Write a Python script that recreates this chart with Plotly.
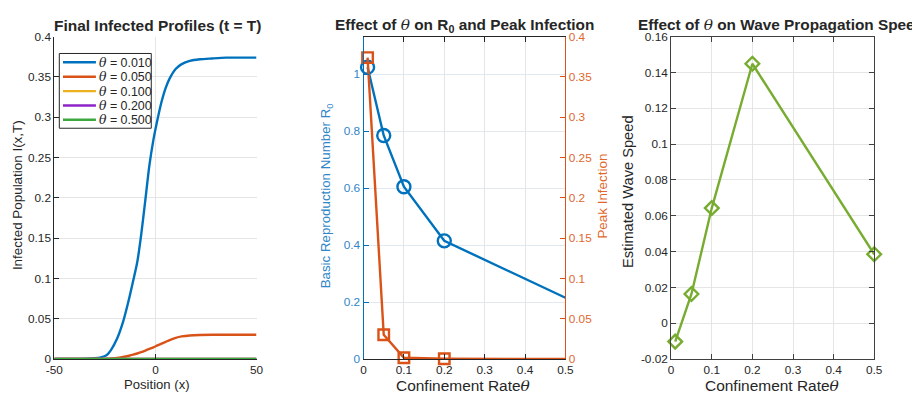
import plotly.graph_objects as go

# ---------------- data ----------------
# Left panel: final infected profiles I(x,T)
pos_x = [-50, -40, -30, -27, -24, -22, -19, -16, -13, -11, -9, -7, -5, -3, -1,
         1, 3, 5, 7, 10, 13, 17, 22, 28, 35, 50]
I_theta_010 = [0.0, 0.0, 0.001, 0.002, 0.005, 0.011, 0.025, 0.046, 0.075, 0.097, 0.120,
               0.155, 0.197, 0.240, 0.272, 0.297, 0.319, 0.336, 0.348, 0.360, 0.366,
               0.370, 0.372, 0.373, 0.374, 0.374]
I_theta_050 = [0.0, 0.0, 0.0, 0.0, 0.0003, 0.0006, 0.0012, 0.0025, 0.004, 0.0053, 0.0068,
               0.0085, 0.0105, 0.0125, 0.0145, 0.0168, 0.019, 0.0212, 0.0235, 0.0262, 0.028,
               0.0292, 0.0298, 0.030, 0.030, 0.030]
I_theta_100 = [0.0] * len(pos_x)
I_theta_200 = [0.0] * len(pos_x)
I_theta_500 = [0.0] * len(pos_x)
profile_labels = ["0.010", "0.050", "0.100", "0.200", "0.500"]

# Middle / right panels
theta = [0.01, 0.05, 0.1, 0.2, 0.5]
R0 = [1.025, 0.785, 0.605, 0.415, 0.215]
peak_infection = [0.374, 0.030, 0.0015, 0.0003, 0.0]
wave_speed = [-0.0103, 0.0163, 0.0643, 0.1449, 0.0385]

# tick labels
left_x_ticks = [-50, 0, 50]
left_x_text = ["-50", "0", "50"]
speed_ticks = [-0.02, 0, 0.02, 0.04, 0.06, 0.08, 0.1, 0.12, 0.14, 0.16]
speed_text = ["-0.02", "0", "0.02", "0.04", "0.06", "0.08", "0.1", "0.12", "0.14", "0.16"]

# ---------------- style / layout helpers ----------------
W, H = 912, 396
# the page is photographed with the body's default 8px margin, scaled back to
# 912x396; these map target window pixels to figure pixels
SX, SY, OFF = 928 / 912, 412 / 396, 8
FSX, FSY = SX, SY   # font compensation (horizontal / rotated text)

def fx(x):
    return (x * SX - OFF) / W

def fy(y):
    return 1 - (y * SY - OFF) / H

FONT = "Liberation Sans, Arial, Helvetica, sans-serif"
TXT = "#262626"
GRID = "#E5E5E5"
BLUE = "#0072BD"
ORANGE = "#D95319"
YELLOW = "#EDB120"
PURPLE = "#8E24C8"
GREEN_L = "#3DA83D"
GREEN = "#77AC30"
BLUE_T = "#2F86C8"
ORANGE_T = "#E0682C"
LW = 2.4

ydom = [fy(358.4), fy(37.3)]
TH = "<span style='font-family:DejaVu Serif'><i>θ</i></span>"

fig = go.Figure()

profile_series = [I_theta_010, I_theta_050, I_theta_100, I_theta_200, I_theta_500]
profile_colors = [BLUE, ORANGE, YELLOW, PURPLE, GREEN_L]
for ys, lab, col in zip(profile_series, profile_labels, profile_colors):
    fig.add_trace(go.Scatter(
        x=pos_x, y=ys, mode="lines", line=dict(color=col, width=LW, shape="spline", smoothing=0.6),
        name=f"{TH} = {lab}", xaxis="x", yaxis="y", showlegend=False, cliponaxis=True))

# middle: R0 (left axis)
fig.add_trace(go.Scatter(x=theta, y=R0, mode="lines", line=dict(color=BLUE, width=LW),
                         xaxis="x2", yaxis="y2", showlegend=False))
fig.add_trace(go.Scatter(x=theta[:4], y=R0[:4], mode="markers",
                         marker=dict(symbol="circle-open", size=13, color=BLUE,
                                     line=dict(width=LW, color=BLUE)),
                         xaxis="x2", yaxis="y2", showlegend=False, cliponaxis=False))
# middle: peak infection (right axis)
fig.add_trace(go.Scatter(x=theta, y=peak_infection, mode="lines", line=dict(color=ORANGE, width=LW),
                         xaxis="x2", yaxis="y4", showlegend=False))
fig.add_trace(go.Scatter(x=theta[:4], y=peak_infection[:4], mode="markers",
                         marker=dict(symbol="square-open", size=10.5, color=ORANGE,
                                     line=dict(width=LW, color=ORANGE)),
                         xaxis="x2", yaxis="y4", showlegend=False, cliponaxis=False))

# right: wave speed
fig.add_trace(go.Scatter(x=theta, y=wave_speed, mode="lines+markers",
                         line=dict(color=GREEN, width=LW),
                         marker=dict(symbol="diamond-open", size=10.5, color=GREEN,
                                     line=dict(width=LW, color=GREEN)),
                         xaxis="x3", yaxis="y3", showlegend=False, cliponaxis=False))

TICK = 11.8
tickfont = dict(family=FONT, size=TICK, color=TXT)
common_ax = dict(ticks="inside", ticklen=5, tickwidth=1, showgrid=True, gridcolor=GRID,
                 gridwidth=1, zeroline=False, showline=True, linewidth=1, tickfont=tickfont,
                 fixedrange=True)

fig.update_layout(
    width=W, height=H, margin=dict(l=0, r=0, t=0, b=0),
    paper_bgcolor="white", plot_bgcolor="white",
    font=dict(family=FONT, color=TXT), showlegend=False,
    xaxis=dict(domain=[fx(53.3), fx(256)], range=[-50, 50], tickvals=left_x_ticks,
               ticktext=left_x_text, linecolor=TXT, tickcolor=TXT, anchor="y", **common_ax),
    yaxis=dict(domain=ydom, range=[0, 0.4], dtick=0.05, linecolor=TXT, tickcolor=TXT,
               anchor="x", **common_ax),
    xaxis2=dict(domain=[fx(363.3), fx(565.7)], range=[0, 0.5], dtick=0.1, linecolor=TXT,
                tickcolor=TXT, mirror="ticks", anchor="y2", **common_ax),
    yaxis2=dict(domain=ydom, range=[0, 1.132], tickvals=[0, 0.2, 0.4, 0.6, 0.8, 1.0],
                ticktext=["0", "0.2", "0.4", "0.6", "0.8", "1"],
                linecolor=BLUE, tickcolor=BLUE, anchor="x2",
                **{**common_ax, "tickfont": dict(family=FONT, size=TICK, color=BLUE_T),
                   "gridcolor": "#E2E8EF"}),
    yaxis4=dict(domain=ydom, range=[0, 0.4], dtick=0.05, overlaying="y2", side="right",
                anchor="x2", linecolor=ORANGE, tickcolor=ORANGE,
                **{**common_ax, "showgrid": False,
                   "tickfont": dict(family=FONT, size=TICK, color=ORANGE_T)}),
    xaxis3=dict(domain=[fx(671.7), fx(875.3)], range=[0, 0.5], dtick=0.1, linecolor="#404040",
                tickcolor="#404040", mirror="ticks", anchor="y3", **common_ax),
    yaxis3=dict(domain=ydom, range=[-0.02, 0.16], tickvals=speed_ticks, ticktext=speed_text,
                linecolor="#404040", tickcolor="#404040", mirror="ticks", anchor="x3",
                **common_ax),
)

def ann(text, x, y, size=12, color=TXT, angle=0, xanchor="center"):
    fs = size * (FSY if angle else FSX)
    fig.add_annotation(text=text, x=fx(x), y=fy(y),
                       xref="paper", yref="paper", showarrow=False, textangle=angle,
                       xanchor=xanchor, yanchor="middle",
                       font=dict(family=FONT, size=fs, color=color))

# ---- legend of the left panel (box, line samples, labels) ----
fig.add_shape(type="rect", xref="paper", yref="paper",
              x0=fx(58.3), x1=fx(150.5), y0=fy(128.5), y1=fy(54),
              line=dict(color=TXT, width=1), fillcolor="white", layer="above")
legend_rows = [62.7, 77.2, 91.5, 105.8, 120.1]
for ry, lab, col in zip(legend_rows, profile_labels, profile_colors):
    fig.add_shape(type="line", xref="paper", yref="paper",
                  x0=fx(62), x1=fx(95), y0=fy(ry), y1=fy(ry),
                  line=dict(color=col, width=LW), layer="above")
    ann(f"{TH} = {lab}", 96.5, ry, size=12.2, xanchor="left")

# titles
ann("<b>Final Infected Profiles (t = T)</b>", 157, 26, size=15.2)
ann(f"<b>Effect of </b>{TH}<b> on R<sub>0</sub> and Peak Infection</b>", 465, 26, size=15.1)
ann(f"<b>Effect of </b>{TH}<b> on Wave Propagation Speed</b>", 636, 26, size=15.1, xanchor="left")
# x labels
ann("Position (x)", 156, 384, size=12.9)
ann(f"Confinement Rate{TH}", 464, 385, size=15.2)
ann(f"Confinement Rate{TH}", 773, 385, size=15.2)
# y labels
ann("Infected Population I(x,T)", 17, 195, size=12.9, angle=-90)
ann("Basic Reproduction Number R<sub>0</sub>", 327, 196, size=12.8, color=BLUE_T, angle=-90)
ann("Peak Infection", 603, 196, size=12.9, color=ORANGE_T, angle=-90)
ann("Estimated Wave Speed", 629, 191.5, size=14.1, angle=-90)

fig.write_html("out.html", include_plotlyjs=True, config={"displayModeBar": False})
